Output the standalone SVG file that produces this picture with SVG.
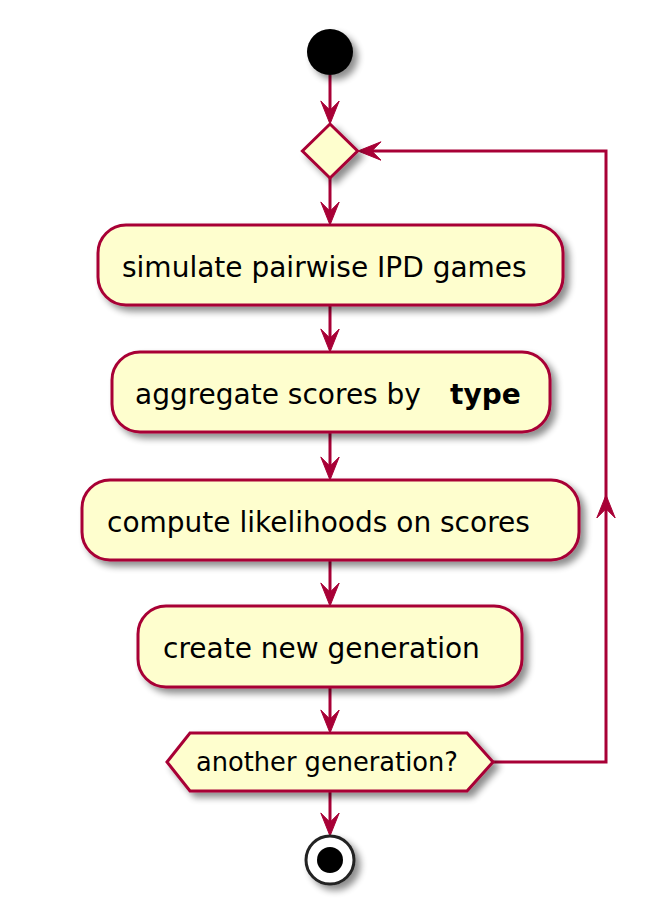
<svg xmlns="http://www.w3.org/2000/svg" width="661" height="915" viewBox="0 0 661 915">
<style>
.box{fill:#FEFECE;stroke:#A80036;stroke-width:3;}
.lbl{font-family:"DejaVu Sans",sans-serif;font-size:28px;fill:#000;}
.hlbl{font-family:"DejaVu Sans",sans-serif;font-size:25.7px;fill:#000;}
.edge{fill:none;stroke:#A80036;stroke-width:3;}
.ah{fill:#A80036;stroke:#A80036;stroke-width:1;stroke-linejoin:miter;}
</style>
<defs>
<filter id="sh" x="-20%" y="-20%" width="150%" height="160%">
<feGaussianBlur in="SourceAlpha" stdDeviation="3.5"/>
<feOffset dx="5" dy="5" result="b"/>
<feComponentTransfer><feFuncA type="linear" slope="0.45"/></feComponentTransfer>
<feMerge><feMergeNode/><feMergeNode in="SourceGraphic"/></feMerge>
</filter>
<path id="ah" d="M0,0 L-9.2,-23 L0,-13.8 L9.2,-23 Z"/>
</defs>
<rect width="661" height="915" fill="#FFFFFF"/>
<g id="connectors">
<path class="edge" d="M330,75 V114"/>
<path class="edge" d="M330,178 V215"/>
<path class="edge" d="M330,305 V342"/>
<path class="edge" d="M330,432 V470"/>
<path class="edge" d="M330,560 V596"/>
<path class="edge" d="M330,687 V723"/>
<path class="edge" d="M330,791 V826"/>
<path class="edge" d="M493,762 H606 V151 H368"/>
<use href="#ah" class="ah" transform="translate(330,124)"/>
<use href="#ah" class="ah" transform="translate(330,225)"/>
<use href="#ah" class="ah" transform="translate(330,352)"/>
<use href="#ah" class="ah" transform="translate(330,480)"/>
<use href="#ah" class="ah" transform="translate(330,606)"/>
<use href="#ah" class="ah" transform="translate(330,733)"/>
<use href="#ah" class="ah" transform="translate(330,836)"/>
<use href="#ah" class="ah" transform="translate(358,151) rotate(90)"/>
<use href="#ah" class="ah" transform="translate(606,495) rotate(180)"/>
</g>
<g id="start" filter="url(#sh)">
<circle cx="330" cy="52" r="23" fill="#000000"/>
</g>
<g id="merge" filter="url(#sh)">
<polygon class="box" points="330,124 357.6,151 330,178 302.4,151"/>
</g>
<g id="simulate">
<rect class="box" x="98" y="225" width="465" height="80" rx="28" ry="28" filter="url(#sh)"/>
<text class="lbl" x="122" y="277">simulate pairwise IPD games</text>
</g>
<g id="aggregate">
<rect class="box" x="112" y="352" width="438" height="80" rx="28" ry="28" filter="url(#sh)"/>
<text class="lbl" x="135" y="404">aggregate scores by<tspan x="450" font-weight="bold">type</tspan></text>
</g>
<g id="compute">
<rect class="box" x="82" y="480" width="497" height="80" rx="28" ry="28" filter="url(#sh)"/>
<text class="lbl" x="107" y="532">compute likelihoods on scores</text>
</g>
<g id="create">
<rect class="box" x="138" y="606" width="384" height="81" rx="28" ry="28" filter="url(#sh)"/>
<text class="lbl" x="163" y="658">create new generation</text>
</g>
<g id="another">
<polygon class="box" points="167,762 190,733 467,733 493,762 467,791 190,791" filter="url(#sh)"/>
<text class="hlbl" x="196" y="771">another generation?</text>
</g>
<g id="end" filter="url(#sh)">
<circle cx="330" cy="860" r="24" fill="#FFFFFF" stroke="#222222" stroke-width="3"/>
<circle cx="330" cy="860" r="13" fill="#000000"/>
</g>
</svg>
